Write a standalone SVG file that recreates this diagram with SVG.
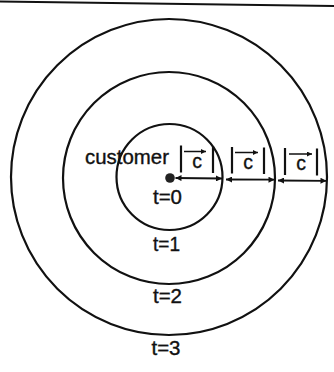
<svg xmlns="http://www.w3.org/2000/svg" width="334" height="372" viewBox="0 0 334 372">
<defs>
<style>
.ring{fill:none;stroke:#111;stroke-width:2.2}
.t{font-family:"Liberation Sans",Arial,sans-serif;font-size:19.5px;fill:#111;stroke:#111;stroke-width:0.35}
.bar{stroke:#111;stroke-width:2.2}
.conn{stroke:#111;stroke-width:1.8;fill:none;marker-start:url(#ah);marker-end:url(#ah)}
.vec{stroke:#111;stroke-width:1.5;fill:none;marker-end:url(#vh)}
</style>
<marker id="ah" viewBox="0 0 10 10" refX="10" refY="5" markerWidth="8" markerHeight="6" markerUnits="userSpaceOnUse" orient="auto-start-reverse">
<path d="M0,0 L10,5 L0,10 z" fill="#111"/>
</marker>
<marker id="vh" viewBox="0 0 10 10" refX="10" refY="5" markerWidth="6" markerHeight="5" markerUnits="userSpaceOnUse" orient="auto">
<path d="M0,0 L10,5 L0,10 z" fill="#111"/>
</marker>
</defs>
<rect width="334" height="372" fill="#fff"/>
<line x1="0" y1="1.5" x2="334" y2="6" stroke="#111" stroke-width="1.8"/>
<g id="ring3"><circle class="ring" cx="169" cy="177" r="158"/></g>
<g id="ring2"><circle class="ring" cx="169" cy="178" r="106"/></g>
<g id="ring1"><circle class="ring" cx="169.5" cy="177" r="53"/></g>
<g id="customer">
<circle cx="170" cy="178" r="4.8" fill="#222"/>
<text class="t" x="85" y="164" textLength="84" lengthAdjust="spacingAndGlyphs">customer</text>
</g>
<g id="label-t0"><text class="t" x="153" y="204" textLength="29" lengthAdjust="spacingAndGlyphs">t=0</text></g>
<g id="label-t1"><text class="t" x="153" y="250.7" textLength="27" lengthAdjust="spacingAndGlyphs">t=1</text></g>
<g id="label-t2"><text class="t" x="153" y="302.7" textLength="29" lengthAdjust="spacingAndGlyphs">t=2</text></g>
<g id="label-t3"><text class="t" x="151.5" y="355" textLength="29" lengthAdjust="spacingAndGlyphs">t=3</text></g>
<g id="abs-c-1">
<line class="bar" x1="181" y1="145.5" x2="181" y2="172.5"/>
<line class="bar" x1="213" y1="146" x2="213" y2="173"/>
<line class="vec" x1="184" y1="151.5" x2="206" y2="151.5"/>
<text class="t" x="197" y="168" text-anchor="middle" font-size="20">c</text>
</g>
<g id="abs-c-2">
<line class="bar" x1="232" y1="147" x2="232" y2="173.5"/>
<line class="bar" x1="264" y1="147.5" x2="264" y2="174"/>
<line class="vec" x1="235" y1="152.5" x2="258" y2="152.5"/>
<text class="t" x="248" y="169" text-anchor="middle" font-size="20">c</text>
</g>
<g id="abs-c-3">
<line class="bar" x1="285" y1="148" x2="285" y2="175"/>
<line class="bar" x1="317" y1="148.5" x2="317" y2="175.5"/>
<line class="vec" x1="289" y1="154" x2="312" y2="154"/>
<text class="t" x="301" y="170" text-anchor="middle" font-size="20">c</text>
</g>
<g id="connectors">
<line class="conn" x1="175.5" y1="178" x2="222" y2="178.5"/>
<line class="conn" x1="226" y1="179.5" x2="274.5" y2="179.7"/>
<line class="conn" x1="278" y1="180.5" x2="326.5" y2="180.8"/>
</g>
</svg>
